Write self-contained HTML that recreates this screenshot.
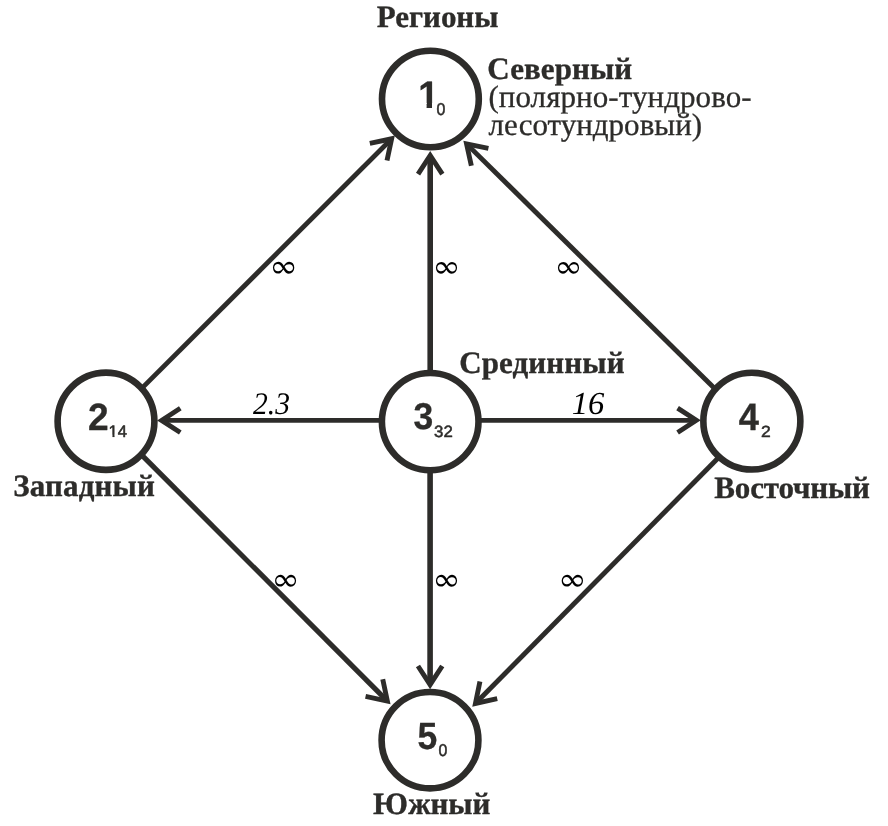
<!DOCTYPE html>
<html lang="ru"><head><meta charset="utf-8"><title>Регионы</title>
<style>html,body{margin:0;padding:0;background:#fff;}svg{display:block;will-change:transform;text-rendering:geometricPrecision}</style></head>
<body><svg width="888" height="826" viewBox="0 0 888 826">
<rect width="888" height="826" fill="#fff"/>
<g fill="none" stroke="#2d2c2a" stroke-linejoin="miter" stroke-miterlimit="10" stroke-linecap="butt">
<line x1="142.48" y1="387.62" x2="390.95" y2="139.45" stroke-width="4.8"/><polyline points="369.84,143.37 391.65,138.74 387.00,160.55" stroke-width="4.9"/>
<line x1="430.20" y1="371.80" x2="430.20" y2="156.50" stroke-width="5.6"/><polyline points="418.05,174.20 430.20,155.50 442.35,174.20" stroke-width="4.9"/>
<line x1="714.64" y1="388.61" x2="467.27" y2="144.63" stroke-width="4.9"/><polyline points="471.35,165.71 466.56,143.93 488.41,148.41" stroke-width="4.9"/>
<line x1="382.00" y1="420.40" x2="162.60" y2="420.40" stroke-width="4.8"/><polyline points="180.30,432.55 161.60,420.40 180.30,408.25" stroke-width="4.9"/>
<line x1="479.00" y1="420.30" x2="695.30" y2="420.30" stroke-width="4.8"/><polyline points="677.60,408.15 696.30,420.30 677.60,432.45" stroke-width="4.9"/>
<line x1="141.08" y1="454.38" x2="386.65" y2="700.35" stroke-width="5.1"/><polyline points="382.74,679.24 387.36,701.05 365.55,696.40" stroke-width="4.9"/>
<line x1="430.10" y1="470.00" x2="430.10" y2="683.70" stroke-width="5.6"/><polyline points="442.25,666.00 430.10,684.70 417.95,666.00" stroke-width="4.9"/>
<line x1="719.11" y1="456.97" x2="476.13" y2="702.73" stroke-width="4.9"/><polyline points="497.22,698.68 475.43,703.44 479.94,681.60" stroke-width="4.9"/>
</g>
<g fill="#fff" stroke="#2d2c2a" stroke-width="6.6">
<ellipse cx="430.4" cy="99.0" rx="48.40" ry="48.20"/>
<ellipse cx="106.0" cy="421.25" rx="48.40" ry="48.60"/>
<ellipse cx="430.2" cy="421.6" rx="48.30" ry="48.60"/>
<ellipse cx="751.85" cy="421.15" rx="48.50" ry="48.40"/>
<ellipse cx="430.0" cy="740.15" rx="48.40" ry="48.20"/>
</g>
<text x="376.78" y="27.10" font-size="31.0" letter-spacing="-0.025" fill="#2d2c2a" stroke="#2d2c2a" stroke-width="0.35" stroke-linejoin="round" font-family="'Liberation Serif', serif" font-weight="bold">Регионы</text>
<text x="487.28" y="78.60" font-size="31.0" letter-spacing="0.100" fill="#2d2c2a" stroke="#2d2c2a" stroke-width="0.35" stroke-linejoin="round" font-family="'Liberation Serif', serif" font-weight="bold">Северный</text>
<text x="488.40" y="107.40" font-size="31.0" letter-spacing="0.076" fill="#2d2c2a" stroke="#2d2c2a" stroke-width="0.3" stroke-linejoin="round" font-family="'Liberation Serif', serif">(полярно-тундрово-</text>
<text x="488.60" y="134.80" font-size="31.0" letter-spacing="0.019" fill="#2d2c2a" stroke="#2d2c2a" stroke-width="0.3" stroke-linejoin="round" font-family="'Liberation Serif', serif">лесотундровый)</text>
<text x="459.18" y="373.40" font-size="31.0" letter-spacing="0.131" fill="#2d2c2a" stroke="#2d2c2a" stroke-width="0.35" stroke-linejoin="round" font-family="'Liberation Serif', serif" font-weight="bold">Срединный</text>
<text x="13.28" y="495.80" font-size="31.0" letter-spacing="0.164" fill="#2d2c2a" stroke="#2d2c2a" stroke-width="0.35" stroke-linejoin="round" font-family="'Liberation Serif', serif" font-weight="bold">Западный</text>
<text x="714.27" y="497.70" font-size="31.0" letter-spacing="-0.144" fill="#2d2c2a" stroke="#2d2c2a" stroke-width="0.35" stroke-linejoin="round" font-family="'Liberation Serif', serif" font-weight="bold">Восточный</text>
<text x="372.98" y="814.10" font-size="31.0" letter-spacing="-0.100" fill="#2d2c2a" stroke="#2d2c2a" stroke-width="0.35" stroke-linejoin="round" font-family="'Liberation Serif', serif" font-weight="bold">Южный</text>
<text transform="translate(253.00 413.54) scale(0.9536 1.0119)" font-size="31" fill="#000" font-family="'Liberation Serif', serif" font-style="italic">2.3</text>
<text transform="translate(571.68 413.79) scale(1.0542 1.0337)" font-size="31" fill="#000" font-family="'Liberation Serif', serif" font-style="italic">16</text>
<text transform="translate(297.94 277.19) scale(-1.1514 1.0435)" font-size="30" fill="#000" font-family="'DejaVu Serif', serif">∞</text>
<text transform="translate(460.71 277.13) scale(-1.1405 1.0261)" font-size="30" fill="#000" font-family="'DejaVu Serif', serif">∞</text>
<text transform="translate(582.81 277.13) scale(-1.1405 1.0261)" font-size="30" fill="#000" font-family="'DejaVu Serif', serif">∞</text>
<text transform="translate(299.69 590.06) scale(-1.1351 1.0348)" font-size="30" fill="#000" font-family="'DejaVu Serif', serif">∞</text>
<text transform="translate(460.71 590.06) scale(-1.1405 1.0348)" font-size="30" fill="#000" font-family="'DejaVu Serif', serif">∞</text>
<text transform="translate(586.74 590.06) scale(-1.1514 1.0348)" font-size="30" fill="#000" font-family="'DejaVu Serif', serif">∞</text>
<clipPath id="c1"><rect x="-5" y="-44.40" width="148.00" height="39.77"/><rect x="8.49" y="-5.13" width="5.38" height="5.28"/><rect x="20.58" y="-5.13" width="111.00" height="7.93"/></clipPath>
<g transform="translate(418.14 107.75) scale(1.0000 1.0310)"><text clip-path="url(#c1)" font-size="37" fill="#2d2c2a" stroke="#2d2c2a" stroke-width="0.3" stroke-linejoin="round" font-family="'Liberation Sans', sans-serif" font-weight="bold">1</text></g>
<text transform="translate(88.10 429.65) scale(1.0028 1.0250)" font-size="37" fill="#2d2c2a" stroke="#2d2c2a" stroke-width="0.3" stroke-linejoin="round" font-family="'Liberation Sans', sans-serif" font-weight="bold">2</text>
<text transform="translate(413.38 429.24) scale(0.9596 1.0094)" font-size="37" fill="#2d2c2a" stroke="#2d2c2a" stroke-width="0.3" stroke-linejoin="round" font-family="'Liberation Sans', sans-serif" font-weight="bold">3</text>
<text transform="translate(738.76 429.64) scale(0.9803 1.0349)" font-size="37" fill="#2d2c2a" stroke="#2d2c2a" stroke-width="0.3" stroke-linejoin="round" font-family="'Liberation Sans', sans-serif" font-weight="bold">4</text>
<text transform="translate(417.44 749.19) scale(0.9596 1.0250)" font-size="37" fill="#2d2c2a" stroke="#2d2c2a" stroke-width="0.3" stroke-linejoin="round" font-family="'Liberation Sans', sans-serif" font-weight="bold">5</text>
<text transform="translate(436.57 115.38) scale(0.9091 0.9885)" font-size="17.5" fill="#2d2c2a" stroke="#2d2c2a" stroke-width="0.55" stroke-linejoin="round" font-family="'Liberation Sans', sans-serif">0</text>
<clipPath id="c2"><rect x="-5" y="-21.00" width="70.00" height="18.72"/><rect x="4.13" y="-2.78" width="2.10" height="3.06"/><rect x="9.73" y="-2.78" width="52.50" height="5.58"/></clipPath>
<g transform="translate(108.56 436.94) scale(0.9515 0.9562)"><text clip-path="url(#c2)" font-size="17.5" fill="#2d2c2a" stroke="#2d2c2a" stroke-width="0.55" stroke-linejoin="round" font-family="'Liberation Sans', sans-serif">14</text></g>
<text transform="translate(434.04 437.11) scale(0.9617 0.9349)" font-size="17.5" fill="#2d2c2a" stroke="#2d2c2a" stroke-width="0.55" stroke-linejoin="round" font-family="'Liberation Sans', sans-serif">32</text>
<text transform="translate(761.07 436.95) scale(1.0000 0.9219)" font-size="17.5" fill="#2d2c2a" stroke="#2d2c2a" stroke-width="0.55" stroke-linejoin="round" font-family="'Liberation Sans', sans-serif">2</text>
<text transform="translate(438.57 756.29) scale(0.9091 0.9808)" font-size="17.5" fill="#2d2c2a" stroke="#2d2c2a" stroke-width="0.55" stroke-linejoin="round" font-family="'Liberation Sans', sans-serif">0</text>
</svg></body></html>
